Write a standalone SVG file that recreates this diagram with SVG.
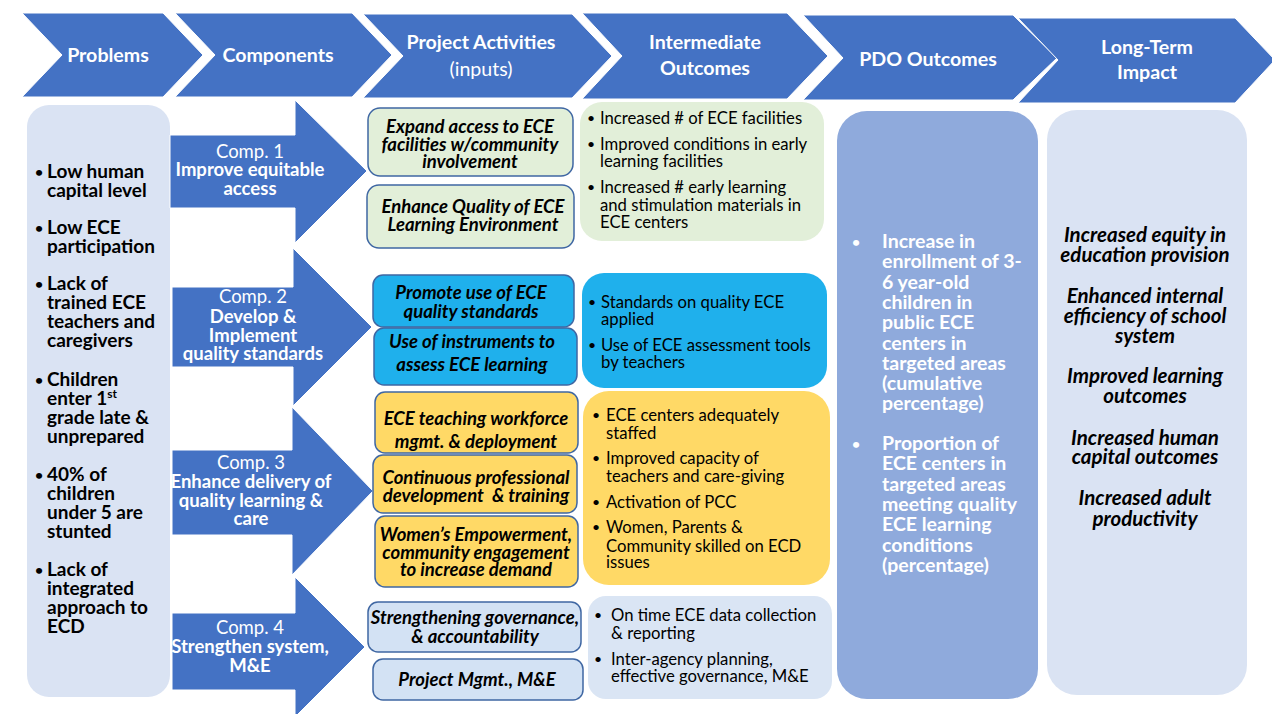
<svg xmlns="http://www.w3.org/2000/svg" width="1272" height="714" viewBox="0 0 1272 714">
<style>
text{font-family:Lato,'Open Sans',sans-serif}
.hdr{fill:#4472C4;stroke:#ffffff;stroke-width:1}
.ht{font-weight:700;font-size:19.6px;fill:#fff;text-anchor:middle}
.rg{font-weight:400}
.pb{fill:#DAE3F3}
.prob{font-weight:700;font-size:19px;fill:#000}
.bl{font-size:14px}
.arr{fill:#4472C4;stroke:#ffffff;stroke-width:1}
.cb{font-weight:700;font-size:18.5px;fill:#fff;text-anchor:middle}
.act{stroke:#3F67A3;stroke-width:1.5}
.green{fill:#E2EFD9}
.cyan{fill:#1FB0EC}
.yel{fill:#FFD966}
.lb{fill:#D3E2F4}
.at{font-weight:700;font-style:italic;font-size:18.5px;text-anchor:middle;fill:#000}
.it{font-weight:400;font-size:16.7px;fill:#000}
.pdo{fill:#8FAADC}
.pt{font-weight:700;font-size:19.5px;fill:#fff}
.lt{font-weight:700;font-style:italic;font-size:20.5px;text-anchor:middle;fill:#000}
</style>

<g id="headers">
<g id="h-problems"><polygon class="hdr" points="22,13 163,13 203,55 163,97 22,97 62,55"/><text class="ht" x="108" y="62">Problems</text></g>
<g id="h-components"><polygon class="hdr" points="175,13 352,13 392,55 352,97 175,97 215,55"/><text class="ht" x="278" y="62">Components</text></g>
<g id="h-activities"><polygon class="hdr" points="363,14 572,14 612,56 572,98 363,98 403,56"/><text class="ht" x="481" y="49">Project Activities<tspan class="rg" x="481" y="76">(inputs)</tspan></text></g>
<g id="h-intermediate"><polygon class="hdr" points="582,13 787,13 828,56 787,99 582,99 622,56"/><text class="ht" x="705" y="49">Intermediate<tspan x="705" y="75">Outcomes</tspan></text></g>
<g id="h-pdo"><polygon class="hdr" points="803,15 1013,15 1057,58 1013,100 803,100 843,58"/><text class="ht" x="928" y="66">PDO Outcomes</text></g>
<g id="h-impact"><polygon class="hdr" points="1018,18 1235,18 1275,60 1235,103 1018,103 1058,60"/><text class="ht" x="1147" y="54">Long-Term<tspan x="1147" y="79">Impact</tspan></text></g>
</g>

<g id="problems">
<rect class="pb" x="27" y="105" width="143" height="592" rx="22"/>
<text class="prob"><tspan class="bl" x="35" y="177">•</tspan><tspan x="47" y="178">Low human</tspan><tspan x="47" y="197">capital level</tspan></text>
<text class="prob"><tspan class="bl" x="35" y="233">•</tspan><tspan x="47" y="234">Low ECE</tspan><tspan x="47" y="253">participation</tspan></text>
<text class="prob"><tspan class="bl" x="35" y="289">•</tspan><tspan x="47" y="290">Lack of</tspan><tspan x="47" y="309">trained ECE</tspan><tspan x="47" y="328">teachers and</tspan><tspan x="47" y="347">caregivers</tspan></text>
<text class="prob"><tspan class="bl" x="35" y="385">•</tspan><tspan x="47" y="386">Children</tspan><tspan x="47" y="405">enter 1</tspan><tspan font-size="12" dy="-7">st</tspan><tspan x="47" y="424">grade late &amp;</tspan><tspan x="47" y="443">unprepared</tspan></text>
<text class="prob"><tspan class="bl" x="35" y="480">•</tspan><tspan x="47" y="481">40% of</tspan><tspan x="47" y="500">children</tspan><tspan x="47" y="519">under 5 are</tspan><tspan x="47" y="538">stunted</tspan></text>
<text class="prob"><tspan class="bl" x="35" y="575">•</tspan><tspan x="47" y="576">Lack of</tspan><tspan x="47" y="595">integrated</tspan><tspan x="47" y="614">approach to</tspan><tspan x="47" y="633">ECD</tspan></text>
</g>

<g id="connectors">
<g id="comp1"><polygon class="arr" points="170,135 295,135 295,100 367,171 295,243 295,208 170,208"/>
<text class="cb"><tspan class="rg" x="250" y="158">Comp. 1</tspan><tspan x="250" y="176">Improve equitable</tspan><tspan x="250" y="195">access</tspan></text></g>
<g id="comp2"><polygon class="arr" points="172,287 293,287 293,248 372,327 293,406 293,367 172,367"/>
<text class="cb"><tspan class="rg" x="253" y="303">Comp. 2</tspan><tspan x="253" y="323">Develop &amp;</tspan><tspan x="253" y="342">Implement</tspan><tspan x="253" y="360">quality standards</tspan></text></g>
<g id="comp3"><polygon class="arr" points="172,450 292,450 292,407 373,491 292,575 292,535 172,535"/>
<text class="cb"><tspan class="rg" x="251" y="469">Comp. 3</tspan><tspan x="251" y="488">Enhance delivery of</tspan><tspan x="251" y="507">quality learning &amp;</tspan><tspan x="251" y="525">care</tspan></text></g>
<g id="comp4"><polygon class="arr" points="172,613 295,613 295,577 365,647 295,717 295,690 172,690"/>
<text class="cb"><tspan class="rg" x="250" y="634">Comp. 4</tspan><tspan x="250" y="653">Strengthen system,</tspan><tspan x="250" y="672">M&amp;E</tspan></text></g>
</g>

<g id="act-a1"><rect class="act green" x="368" y="108" width="205" height="68" rx="12"/><text class="at"><tspan x="470" y="133">Expand access to ECE</tspan><tspan x="470" y="151">facilities w/community</tspan><tspan x="470" y="168">involvement</tspan></text></g>
<g id="act-a2"><rect class="act green" x="367" y="185" width="207" height="63" rx="12"/><text class="at"><tspan x="473" y="213">Enhance Quality of ECE</tspan><tspan x="473" y="231">Learning Environment</tspan></text></g>
<g id="act-b1"><rect class="act cyan" x="373" y="275" width="201" height="52" rx="10"/><text class="at"><tspan x="471" y="299">Promote use of ECE</tspan><tspan x="471" y="318">quality standards</tspan></text></g>
<g id="act-b2"><rect class="act cyan" x="374" y="328" width="203" height="57" rx="10"/><text class="at"><tspan x="472" y="348">Use of instruments to</tspan><tspan x="472" y="371">assess ECE learning</tspan></text></g>
<g id="act-c1"><rect class="act yel" x="375" y="392" width="203" height="61" rx="10"/><text class="at"><tspan x="476" y="425">ECE teaching workforce</tspan><tspan x="476" y="448">mgmt. &amp; deployment</tspan></text></g>
<g id="act-c2"><rect class="act yel" x="373" y="455" width="204" height="58" rx="10"/><text class="at" xml:space="preserve"><tspan x="476" y="484">Continuous professional</tspan><tspan x="476" y="502">development  &amp; training</tspan></text></g>
<g id="act-c3"><rect class="act yel" x="375" y="516" width="203" height="71" rx="10"/><text class="at"><tspan x="476" y="541">Women’s Empowerment,</tspan><tspan x="476" y="559">community engagement</tspan><tspan x="476" y="576">to increase demand</tspan></text></g>
<g id="act-d1"><rect class="act lb" x="368" y="602" width="213" height="50" rx="10"/><text class="at"><tspan x="475" y="624">Strengthening governance,</tspan><tspan x="475" y="643">&amp; accountability</tspan></text></g>
<g id="act-d2"><rect class="act lb" x="373" y="659" width="210" height="41" rx="10"/><text class="at" x="477" y="686">Project Mgmt., M&amp;E</text></g>

<g id="io-1"><rect class="green" x="580" y="102" width="244" height="139" rx="22"/>
<text class="it"><tspan class="bl" x="587" y="123">•</tspan><tspan x="600" y="124">Increased # of ECE facilities</tspan><tspan class="bl" x="587" y="149">•</tspan><tspan x="600" y="150">Improved conditions in early</tspan><tspan x="600" y="167">learning facilities</tspan><tspan class="bl" x="587" y="192">•</tspan><tspan x="600" y="193">Increased # early learning</tspan><tspan x="600" y="211">and stimulation materials in</tspan><tspan x="600" y="228">ECE centers</tspan></text></g>
<g id="io-2"><rect class="cyan" x="582" y="273" width="245" height="115" rx="22"/>
<text class="it"><tspan class="bl" x="588" y="307">•</tspan><tspan x="601" y="308">Standards on quality ECE</tspan><tspan x="601" y="325">applied</tspan><tspan class="bl" x="588" y="350">•</tspan><tspan x="601" y="351">Use of ECE assessment tools</tspan><tspan x="601" y="368">by teachers</tspan></text></g>
<g id="io-3"><rect class="yel" x="583" y="391" width="247" height="194" rx="26"/>
<text class="it"><tspan class="bl" x="592" y="420">•</tspan><tspan x="606" y="421">ECE centers adequately</tspan><tspan x="606" y="439">staffed</tspan><tspan class="bl" x="592" y="463">•</tspan><tspan x="606" y="464">Improved capacity of</tspan><tspan x="606" y="482">teachers and care-giving</tspan><tspan class="bl" x="592" y="507">•</tspan><tspan x="606" y="508">Activation of PCC</tspan><tspan class="bl" x="592" y="532">•</tspan><tspan x="606" y="533">Women, Parents &amp;</tspan><tspan x="606" y="552">Community skilled on ECD</tspan><tspan x="606" y="568">issues</tspan></text></g>
<g id="io-4"><rect fill="#DAE5F4" x="588" y="596" width="244" height="103" rx="18"/>
<text class="it"><tspan class="bl" x="594" y="620">•</tspan><tspan x="611" y="621">On time ECE data collection</tspan><tspan x="611" y="639">&amp; reporting</tspan><tspan class="bl" x="594" y="664">•</tspan><tspan x="611" y="665">Inter-agency planning,</tspan><tspan x="611" y="682">effective governance, M&amp;E</tspan></text></g>

<g id="pdo"><rect class="pdo" x="837" y="111" width="201" height="588" rx="30"/>
<text class="pt"><tspan class="bl" x="852" y="247">•</tspan><tspan x="882" y="248">Increase in</tspan><tspan x="882" y="268.3">enrollment of 3-</tspan><tspan x="882" y="288.6">6 year-old</tspan><tspan x="882" y="308.9">children in</tspan><tspan x="882" y="329.2">public ECE</tspan><tspan x="882" y="349.5">centers in</tspan><tspan x="882" y="369.8">targeted areas</tspan><tspan x="882" y="390.1">(cumulative</tspan><tspan x="882" y="410.4">percentage)</tspan></text>
<text class="pt"><tspan class="bl" x="852" y="449">•</tspan><tspan x="882" y="450">Proportion of</tspan><tspan x="882" y="470.3">ECE centers in</tspan><tspan x="882" y="490.6">targeted areas</tspan><tspan x="882" y="510.9">meeting quality</tspan><tspan x="882" y="531.2">ECE learning</tspan><tspan x="882" y="551.5">conditions</tspan><tspan x="882" y="571.8">(percentage)</tspan></text>
</g>

<g id="impact"><rect class="pb" x="1047" y="110" width="200" height="585" rx="30"/>
<text class="lt"><tspan x="1145" y="242">Increased equity in</tspan><tspan x="1145" y="262">education provision</tspan></text>
<text class="lt"><tspan x="1145" y="303">Enhanced internal</tspan><tspan x="1145" y="323">efficiency of school</tspan><tspan x="1145" y="343">system</tspan></text>
<text class="lt"><tspan x="1145" y="383">Improved learning</tspan><tspan x="1145" y="403">outcomes</tspan></text>
<text class="lt"><tspan x="1145" y="445">Increased human</tspan><tspan x="1145" y="464">capital outcomes</tspan></text>
<text class="lt"><tspan x="1145" y="505">Increased adult</tspan><tspan x="1145" y="526">productivity</tspan></text>
</g>
</svg>
